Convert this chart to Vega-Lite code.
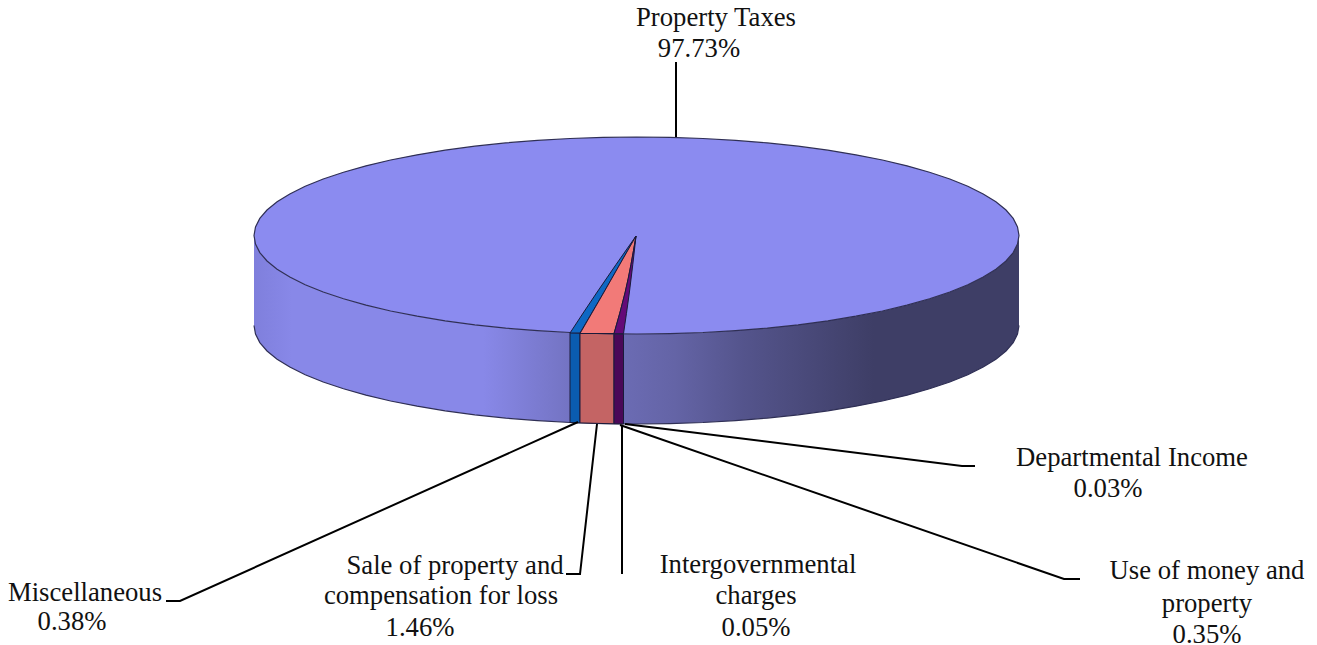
{
"$schema":"https://vega.github.io/schema/vega-lite/v6.json",
"width":1317,"height":645,"autosize":{"type":"none"},"padding":0,
"background":"#ffffff",
"config":{"view":{"stroke":null}},
"datasets":{
"disc":[
{"x":254,"top":235.5,"front":235.5,"base":325.5},{"x":255.5,"top":226.9,"front":244.1,"base":334.1},{"x":259.8,"top":218.4,"front":252.6,"base":342.6},{"x":267,"top":210,"front":261,"base":351},{"x":277.1,"top":201.8,"front":269.2,"base":359.2},{"x":289.8,"top":193.9,"front":277.1,"base":367.1},{"x":305.2,"top":186.2,"front":284.8,"base":374.8},{"x":323.2,"top":179,"front":292,"base":382},{"x":343.5,"top":172.2,"front":298.8,"base":388.8},{"x":366,"top":165.8,"front":305.2,"base":395.2},{"x":390.6,"top":160,"front":311,"base":401},{"x":417.1,"top":154.8,"front":316.2,"base":406.2},{"x":445.2,"top":150.2,"front":320.8,"base":410.8},{"x":474.9,"top":146.2,"front":324.8,"base":414.8},{"x":505.7,"top":142.9,"front":328.1,"base":418.1},{"x":537.5,"top":140.4,"front":330.6,"base":420.6},{"x":570.1,"top":138.5,"front":332.5,"base":422.5},{"x":603.1,"top":137.4,"front":333.6,"base":423.6},{"x":636.5,"top":137,"front":334,"base":424},{"x":669.9,"top":137.4,"front":333.6,"base":423.6},{"x":702.9,"top":138.5,"front":332.5,"base":422.5},{"x":735.5,"top":140.4,"front":330.6,"base":420.6},{"x":767.3,"top":142.9,"front":328.1,"base":418.1},{"x":798.1,"top":146.2,"front":324.8,"base":414.8},{"x":827.8,"top":150.2,"front":320.8,"base":410.8},{"x":855.9,"top":154.8,"front":316.2,"base":406.2},{"x":882.4,"top":160,"front":311,"base":401},{"x":907,"top":165.8,"front":305.2,"base":395.2},{"x":929.5,"top":172.2,"front":298.8,"base":388.8},{"x":949.8,"top":179,"front":292,"base":382},{"x":967.8,"top":186.2,"front":284.8,"base":374.8},{"x":983.2,"top":193.9,"front":277.1,"base":367.1},{"x":995.9,"top":201.8,"front":269.2,"base":359.2},{"x":1006,"top":210,"front":261,"base":351},{"x":1013.2,"top":218.4,"front":252.6,"base":342.6},{"x":1017.5,"top":226.9,"front":244.1,"base":334.1},{"x":1019,"top":235.5,"front":235.5,"base":325.5}
],
"wall":[
{"slice":"Miscellaneous","x":570,"front":332.5,"base":422.5},{"slice":"Miscellaneous","x":580,"front":332.9,"base":422.9},
{"slice":"Sale of property and compensation for loss","x":580,"front":332.9,"base":422.9},{"slice":"Sale of property and compensation for loss","x":614,"front":333.8,"base":423.8},
{"slice":"Intergovernmental charges","x":614,"front":333.8,"base":423.8},{"slice":"Intergovernmental charges","x":623.5,"front":334,"base":424}
],
"wedge":[
{"slice":"Miscellaneous","y":236,"x":636,"x2":636},{"slice":"Miscellaneous","y":293,"x":596.5,"x2":603.5},{"slice":"Miscellaneous","y":333,"x":570,"x2":580},
{"slice":"Sale of property and compensation for loss","y":236,"x":636,"x2":636},{"slice":"Sale of property and compensation for loss","y":293,"x":603.5,"x2":625},{"slice":"Sale of property and compensation for loss","y":333.5,"x":580,"x2":614},
{"slice":"Intergovernmental charges","y":236,"x":636,"x2":636},{"slice":"Intergovernmental charges","y":293,"x":625,"x2":629.3},{"slice":"Intergovernmental charges","y":333.7,"x":614,"x2":623.5}
],
"leaders":[
{"slice":"Property Taxes","i":1,"x":676,"y":62},{"slice":"Property Taxes","i":2,"x":676,"y":137},
{"slice":"Miscellaneous","i":1,"x":166,"y":601},{"slice":"Miscellaneous","i":2,"x":180,"y":601},{"slice":"Miscellaneous","i":3,"x":578,"y":422},
{"slice":"Sale","i":1,"x":566,"y":574},{"slice":"Sale","i":2,"x":580,"y":574},{"slice":"Sale","i":3,"x":597,"y":424},
{"slice":"Intergovernmental","i":1,"x":622,"y":425},{"slice":"Intergovernmental","i":2,"x":622,"y":574},
{"slice":"Use of money","i":1,"x":1080,"y":579},{"slice":"Use of money","i":2,"x":1064,"y":579},{"slice":"Use of money","i":3,"x":620,"y":425},
{"slice":"Departmental","i":1,"x":975,"y":466},{"slice":"Departmental","i":2,"x":962,"y":466},{"slice":"Departmental","i":3,"x":625,"y":424}
],
"labels":[
{"t":"Property Taxes","x":716,"y":26},{"t":"97.73%","x":699,"y":57},
{"t":"Departmental Income","x":1132,"y":466},{"t":"0.03%","x":1108,"y":497},
{"t":"Miscellaneous","x":85,"y":601},{"t":"0.38%","x":72,"y":630},
{"t":"Sale of property and","x":455,"y":574},{"t":"compensation for loss","x":441,"y":604},{"t":"1.46%","x":420,"y":636},
{"t":"Intergovernmental","x":758,"y":573},{"t":"charges","x":756,"y":604},{"t":"0.05%","x":756,"y":636},
{"t":"Use of money and","x":1207,"y":579},{"t":"property","x":1207,"y":612},{"t":"0.35%","x":1207,"y":643}
]
},
"layer":[
{"data":{"name":"disc"},"mark":{"type":"area","orient":"vertical","color":{"gradient":"linear","x1":0,"y1":0,"x2":1,"y2":0,"stops":[{"offset":0,"color":"#7f7fdc"},{"offset":0.05,"color":"#8888e8"},{"offset":0.3,"color":"#8888e8"},{"offset":0.42,"color":"#7272c0"},{"offset":0.55,"color":"#6464a6"},{"offset":0.64,"color":"#54548c"},{"offset":0.81,"color":"#3e3e66"},{"offset":1,"color":"#3e3e66"}]}},
"encoding":{"x":{"field":"x","type":"quantitative","scale":{"domain":[0,1317],"nice":false,"zero":false},"axis":null},"y":{"field":"front","type":"quantitative","scale":{"domain":[645,0],"nice":false,"zero":false},"axis":null},"y2":{"field":"base"}}},
{"data":{"name":"disc"},"mark":{"type":"line","color":"#2f2f55","strokeWidth":1.2},"encoding":{"x":{"field":"x","type":"quantitative"},"y":{"field":"base","type":"quantitative"}}},
{"data":{"name":"wall"},"mark":{"type":"area","orient":"vertical","stroke":"#1a1a3a","strokeWidth":1},
"encoding":{"x":{"field":"x","type":"quantitative"},"y":{"field":"front","type":"quantitative"},"y2":{"field":"base"},"color":{"field":"slice","type":"nominal","legend":null,"scale":{"domain":["Miscellaneous","Sale of property and compensation for loss","Intergovernmental charges"],"range":["#0b5cb0","#c46464","#4a0858"]}}}},
{"data":{"name":"disc"},"mark":{"type":"area","orient":"vertical","color":"#8b8bf0","stroke":"#2f2f55","strokeWidth":1.2},"encoding":{"x":{"field":"x","type":"quantitative"},"y":{"field":"top","type":"quantitative"},"y2":{"field":"front"}}},
{"data":{"name":"wedge"},"mark":{"type":"area","orient":"horizontal","interpolate":"monotone","stroke":"#1a1a3a","strokeWidth":1},
"encoding":{"y":{"field":"y","type":"quantitative"},"x":{"field":"x","type":"quantitative"},"x2":{"field":"x2"},"color":{"field":"slice","type":"nominal","legend":null,"scale":{"domain":["Miscellaneous","Sale of property and compensation for loss","Intergovernmental charges"],"range":["#0e68c4","#f27a78","#640a78"]}}}},
{"data":{"name":"leaders"},"mark":{"type":"line","color":"#000000","strokeWidth":2},"encoding":{"x":{"field":"x","type":"quantitative"},"y":{"field":"y","type":"quantitative"},"detail":{"field":"slice"},"order":{"field":"i"}}},
{"data":{"name":"labels"},"mark":{"type":"text","font":"Liberation Serif","fontSize":26.7,"color":"#111111","align":"center","baseline":"alphabetic"},"encoding":{"x":{"field":"x","type":"quantitative"},"y":{"field":"y","type":"quantitative"},"text":{"field":"t"}}}
],
"resolve":{"scale":{"color":"independent"}}
}
